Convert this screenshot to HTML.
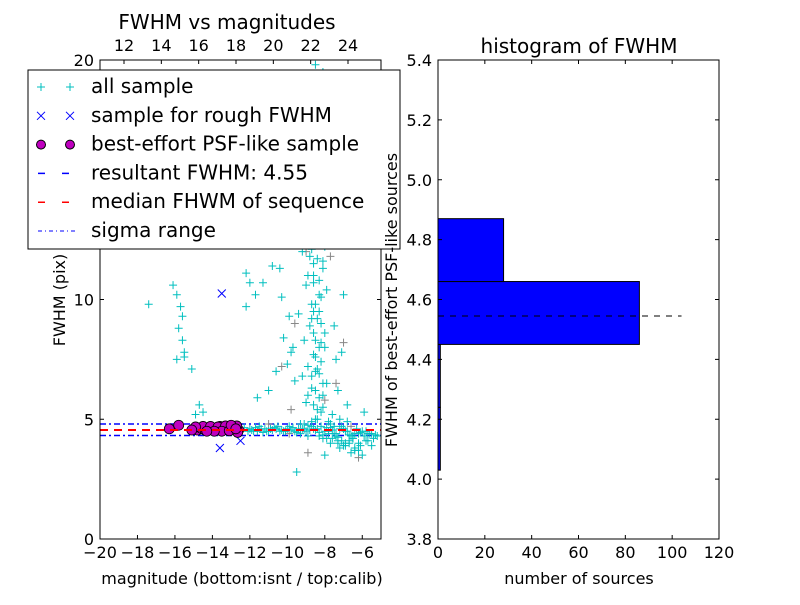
<!DOCTYPE html>
<html><head><meta charset="utf-8"><style>
body{margin:0;background:#fff}
svg text{font-family:"DejaVu Sans","Liberation Sans",sans-serif;fill:#000}
</style></head><body>
<svg id="fig" width="800" height="600" xmlns="http://www.w3.org/2000/svg">
<rect width="800" height="600" fill="#fff"/>
<g id="left"></g>
<g id="right"></g>
</svg>
<script>
const allMag=[-17.4,-16.1,-15.9,-15.7,-15.6,-15.8,-15.6,-15.5,-15.9,-15.5,-15.1,-14.5,-14.9,-14.7,-12.2,-12.0,-11.3,-11.7,-12.2,-10.4,-10.3,
-8.5,-8.1,-8.7,-8.3,-8.6,-8.0,-8.8,-8.4,-8.2,-8.9,-8.5,-9.2,-8.1,-8.6,-9.0,-8.3,-8.7,-9.4,-8.2,-8.6,-9.1,-8.0,-8.5,-8.9,-8.3,-9.6,-8.7,-8.1,-9.0,-8.4,-7.6,-7.9,-7.4,-9.8,-10.2,-10.6,-11.0,-11.6,-7.0,-7.5,-9.9,-10.8,-9.5,-9.3,-7.8,-8.2,-9.0,-7.6,-6.8,-6.2,-5.5,-6.6,-7.2,-9.5,-8.0,-7.7,-5.9,
-8.4,-8.8,-8.3,-8.6,-8.2,-8.5,-8.9,-8.1,-8.7,-9.7,-10.0,-9.2,-7.3,-7.1,-8.0,-8.4,-8.6,
-12.0,-11.6,-11.2,-10.8,-10.4,-10.0,-9.6,-9.2,-8.8,-8.4,-8.0,-7.6,-7.2,-6.8,-6.4,-6.0,-5.6,-5.2,-11.8,-11.4,-11.0,-10.6,-10.2,-9.8,-9.4,-9.0,-8.6,-8.2,-7.8,-7.4,-7.0,-6.6,-6.2,-5.8,-5.4,
-9.1,-8.7,-8.3,-7.9,-7.5,-7.1,-6.7,-8.5,-8.1,-7.7,-7.3,-6.9,-6.5,-9.3,-8.9,-7.8,-7.0,-6.4,-5.7,-6.0,
-12.3,-11.9,-11.5,-11.1,-10.7,-10.3,-9.9,-9.5,-9.1,-8.7,-8.3,-7.9,-7.5,-7.1,-6.7,-6.3,-5.9,-5.5,-12.1,-11.7,-11.3,-10.9,-10.5,-10.1,-9.7,-9.3,-8.9,-8.5,-8.1,-7.7,-7.3,-6.9,-6.5,-6.1,-5.7,-5.3,
-8.4,-8.2,-8.6,-8.3,-8.5,-8.1,-8.7,-8.4,-8.2,-8.6,-8.3,-8.5,-8.0,-8.8,-8.4,-8.3,-8.5,-8.2,-7.9,-8.6,-8.9,-8.1,-8.4,-8.7,-8.3,
-7.6,-7.3,-7.0,-6.7,-6.4,-6.1,-7.8,-7.4,-6.9,-6.5,-6.2,-5.8,-7.2,-6.8];
const allFwhm=[9.8,10.6,10.2,9.7,9.3,8.8,8.3,7.8,7.5,7.6,7.1,5.3,5.2,5.6,11.1,10.7,10.7,10.2,9.7,11.3,10.1,
19.8,19.5,18.5,17.5,16.8,16.0,15.2,14.6,13.8,13.0,12.4,12.0,11.6,11.0,10.6,10.2,9.8,9.4,9.0,8.6,8.3,8.0,7.6,7.2,6.9,6.6,6.3,6.0,5.7,5.4,5.2,6.5,7.5,7.8,8.4,7.0,6.2,5.9,10.2,8.9,9.3,11.4,13.8,15.5,14.2,18.0,17.2,16.5,5.6,4.0,3.9,3.6,3.8,2.8,3.5,4.0,5.3,
12.8,11.8,10.8,9.5,8.2,7.0,6.0,5.5,9.2,8.0,7.3,6.8,6.2,7.8,12.2,14.0,11.5,
4.6,4.5,4.6,4.55,4.5,4.6,4.5,4.6,4.55,4.6,4.5,4.55,4.6,4.5,4.4,4.5,4.4,4.3,4.5,4.6,4.5,4.6,4.5,4.55,4.6,4.5,4.6,4.7,4.5,4.4,4.6,4.3,4.4,4.5,4.2,
4.8,4.9,4.3,4.2,4.7,4.1,4.0,5.0,4.2,4.8,4.1,3.9,4.3,4.8,4.3,4.9,4.6,3.7,4.4,3.5,
4.65,4.55,4.7,4.5,4.65,4.55,4.7,4.45,4.6,4.7,4.45,4.65,4.4,4.7,4.35,4.6,4.3,4.4,4.5,4.65,4.45,4.6,4.7,4.5,4.65,4.4,4.75,4.55,4.35,4.65,4.25,4.5,4.2,4.45,4.1,4.35,
5.0,5.3,5.6,5.9,6.2,6.5,6.8,7.1,7.4,7.7,8.0,8.3,8.6,8.9,9.2,9.5,9.8,10.1,10.4,10.7,11.0,11.3,11.7,12.1,12.6,
4.2,4.0,3.9,4.1,3.8,3.9,4.4,4.3,4.0,4.2,3.7,4.1,5.0,4.9];
const calMag=[-9.6,-9.0,-8.3,-7.7,-10.3,-9.8,-8.0,-7.4,-6.6,-11.0,-8.9,-7.0,-9.2,-9.9,-6.2];
const calFwhm=[9.0,12.0,14.5,11.8,7.2,5.4,5.8,6.5,4.7,4.8,3.6,8.2,15.9,4.4,3.4];
const roughMag=[-13.5,-13.6,-12.5,-14.5,-13.2];
const roughFwhm=[10.25,3.8,4.1,4.6,4.65];
const psfMag=[-16.3,-15.8,-15.0,-14.8,-14.6,-14.4,-14.2,-14.0,-13.8,-13.6,-13.4,-13.2,-13.0,-12.8,-12.6,-14.5,-14.1,-13.7,-13.3,-12.9,-13.5,-12.7,-14.9,-15.1,-13.9,-13.1,-12.65,-14.3,-13.0,-12.75];
const psfFwhm=[4.6,4.75,4.6,4.55,4.62,4.55,4.65,4.6,4.55,4.7,4.58,4.7,4.6,4.65,4.55,4.7,4.7,4.68,4.72,4.7,4.5,4.72,4.68,4.55,4.5,4.52,4.45,4.5,4.75,4.6];
const medianFwhm=4.55, sigmaLo=4.32, sigmaHi=4.8;
const xTicks=[-20,-18,-16,-14,-12,-10,-8,-6];
const topTicks=[12,14,16,18,20,22,24];
const yTicks=[0,5,10,20];
const histEdges=[3.82,4.03,4.24,4.45,4.66,4.87];
const histCounts=[0,1,1,86,28];
const hxTicks=[0,20,40,60,80,100,120];
const hyTicks=[3.8,4.0,4.2,4.4,4.6,4.8,5.0,5.2,5.4];
const histMedian=4.545;

const NS="http://www.w3.org/2000/svg";
function mk(p,t,a,txt){const e=document.createElementNS(NS,t);for(const k in a)e.setAttribute(k,a[k]);if(txt!==undefined)e.textContent=txt;p.appendChild(e);return e;}
const L=document.getElementById('left'),R=document.getElementById('right');
const lx=v=>100+(v+20)*(281/15), ly=v=>539-v*(479/20);
const tx=v=>124+(v-12)*(224/12);
const defs=mk(document.getElementById('fig'),'defs',{});
const cp=mk(defs,'clipPath',{id:'cl'});mk(cp,'rect',{x:100,y:60,width:281,height:479});
const P=mk(L,'g',{'clip-path':'url(#cl)'});
let e;
e=mk(P,'line',{x1:100,x2:381,y1:ly(sigmaHi),y2:ly(sigmaHi),stroke:'#00f','stroke-dasharray':'6,3,2,3','stroke-width':1.5});


e=mk(P,'line',{x1:100,x2:381,y1:ly(sigmaLo),y2:ly(sigmaLo),stroke:'#00f','stroke-dasharray':'6,3,2,3','stroke-width':1.5});


for(let i=0;i<calMag.length;i++){const x=lx(calMag[i]),y=ly(calFwhm[i]);
e=mk(P,'path',{d:`M${x-4},${y}h8M${x},${y-4}v8`,stroke:'#888','stroke-width':1});

}
for(let i=0;i<allMag.length;i++){const x=lx(allMag[i]),y=ly(allFwhm[i]);
e=mk(P,'path',{d:`M${x-4},${y}h8M${x},${y-4}v8`,stroke:'#00bfbf','stroke-width':1});

}
for(let i=0;i<roughMag.length;i++){const x=lx(roughMag[i]),y=ly(roughFwhm[i]);
e=mk(P,'path',{d:`M${x-4},${y-4}l8,8M${x-4},${y+4}l8,-8`,stroke:'#00f','stroke-width':1});

}
for(let i=0;i<psfMag.length;i++){
e=mk(P,'circle',{cx:lx(psfMag[i]),cy:ly(psfFwhm[i]),r:5,fill:'#bf00bf',stroke:'#000','stroke-width':0.8});

}
e=mk(P,'line',{x1:100,x2:381,y1:ly(medianFwhm),y2:ly(medianFwhm),stroke:'#f00','stroke-dasharray':'8,6','stroke-width':2});


mk(L,'rect',{x:100,y:60,width:281,height:479,fill:'none',stroke:'#000'});
xTicks.forEach(v=>{const x=lx(v);mk(L,'path',{d:`M${x},539v-4`,stroke:'#000'});
mk(L,'text',{x:x,y:558,'text-anchor':'middle','font-size':16},v<0?'\u2212'+(-v):v);});
topTicks.forEach(v=>{const x=tx(v);mk(L,'path',{d:`M${x},60v4`,stroke:'#000'});
mk(L,'text',{x:x,y:51,'text-anchor':'middle','font-size':16},v);});
yTicks.forEach(v=>{const y=ly(v);mk(L,'path',{d:`M100,${y}h4M381,${y}h-4`,stroke:'#000'});
mk(L,'text',{x:94,y:y+6,'text-anchor':'end','font-size':16},v);});
mk(L,'text',{x:227,y:29,'text-anchor':'middle','font-size':20,},'FWHM vs magnitudes');
mk(L,'text',{x:242,y:584,'text-anchor':'middle','font-size':16,},'magnitude (bottom:isnt / top:calib)');
mk(L,'text',{x:0,y:0,transform:'translate(65,300) rotate(-90)','text-anchor':'middle','font-size':16,},'FWHM (pix)');
const G=mk(L,'g',{});
mk(G,'rect',{x:28,y:70,width:372,height:179,fill:'#fff',stroke:'#000'});
const labels=['all sample','sample for rough FWHM','best-effort PSF-like sample','resultant FWHM: 4.55','median FHWM of sequence','sigma range'];
labels.forEach((t,i)=>{const y=87+i*28.8;
const g=mk(G,'g',{});
if(i==0)[41,70].forEach(x=>mk(g,'path',{d:`M${x-4},${y}h8M${x},${y-4}v8`,stroke:'#00bfbf'}));
if(i==1)[41,70].forEach(x=>mk(g,'path',{d:`M${x-4},${y-4}l8,8M${x-4},${y+4}l8,-8`,stroke:'#00f'}));
if(i==2)[41,70].forEach(x=>mk(g,'circle',{cx:x,cy:y,r:4.5,fill:'#bf00bf',stroke:'#000'}));
if(i==3)mk(g,'line',{x1:38,x2:76,y1:y,y2:y,stroke:'#00f','stroke-width':1.5,'stroke-dasharray':'7,17'});
if(i==4)mk(g,'line',{x1:38,x2:76,y1:y,y2:y,stroke:'#f00','stroke-width':1.5,'stroke-dasharray':'7,17'});
if(i==5)mk(g,'line',{x1:38,x2:76,y1:y,y2:y,stroke:'#00f','stroke-dasharray':'4,3,1,3'});
mk(g,'text',{x:91,y:y+6,'font-size':20},t);});
const hx=v=>438+v*(281/120), hy=v=>539-(v-3.8)*(479/1.6);
for(let i=0;i<histCounts.length;i++){
e=mk(R,'rect',{x:438,y:hy(histEdges[i+1]),width:hx(histCounts[i])-438,height:hy(histEdges[i])-hy(histEdges[i+1]),fill:'#00f',stroke:'#000'});

}
e=mk(R,'line',{x1:438,x2:hx(104),y1:hy(histMedian),y2:hy(histMedian),stroke:'#000','stroke-dasharray':'6,6'});


mk(R,'rect',{x:438,y:60,width:281,height:479,fill:'none',stroke:'#000'});
hxTicks.forEach(v=>{const x=hx(v);mk(R,'path',{d:`M${x},539v-4M${x},60v4`,stroke:'#000'});
mk(R,'text',{x:x,y:558,'text-anchor':'middle','font-size':16},v);});
hyTicks.forEach(v=>{const y=hy(v);mk(R,'path',{d:`M438,${y}h4M719,${y}h-4`,stroke:'#000'});
mk(R,'text',{x:432,y:y+6,'text-anchor':'end','font-size':16},v.toFixed(1));});
mk(R,'text',{x:579,y:53,'text-anchor':'middle','font-size':20,},'histogram of FWHM');
mk(R,'text',{x:579,y:584,'text-anchor':'middle','font-size':16,},'number of sources');
mk(R,'text',{x:0,y:0,transform:'translate(397,300) rotate(-90)','text-anchor':'middle','font-size':16,},'FWHM of best-effort PSF-like sources');
</script>
</body></html>
